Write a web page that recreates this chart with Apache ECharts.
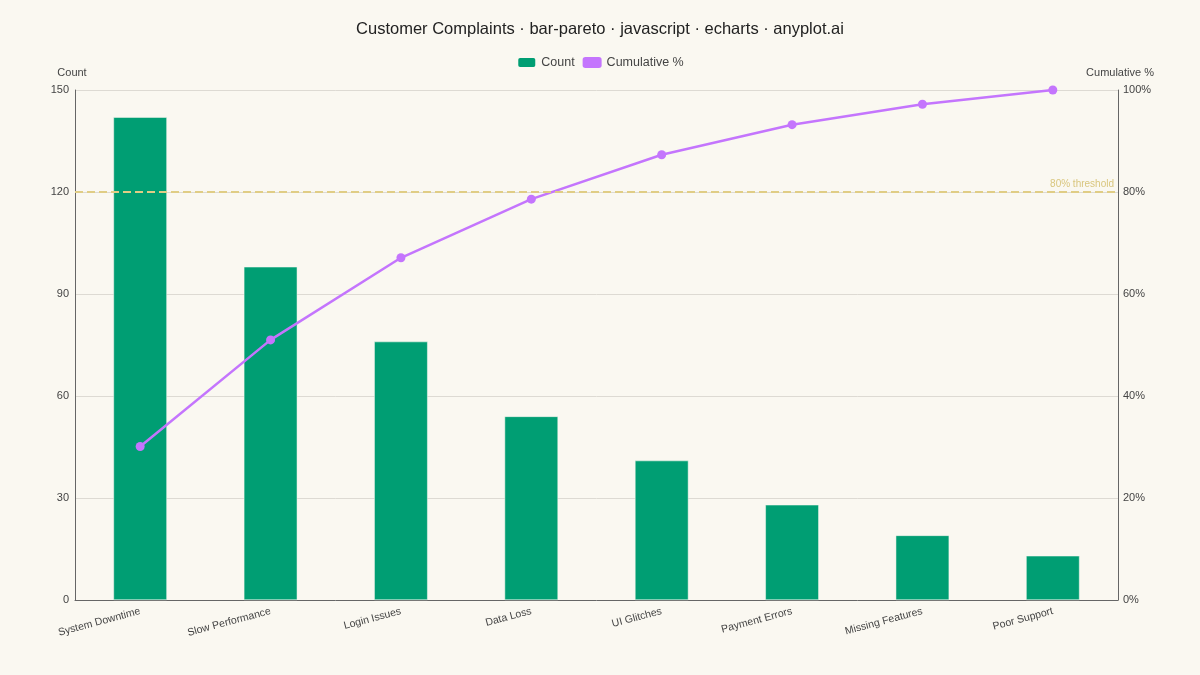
<!DOCTYPE html>
<html>
<head>
<meta charset="utf-8">
<script src="https://cdn.jsdelivr.net/npm/echarts@6/dist/echarts.min.js"></script>
<style>
  html, body { margin: 0; padding: 0; background: #FAF8F1; }
  #chart { width: 1200px; height: 675px; }
</style>
</head>
<body>
<div id="chart"></div>
<script>
const categories = ["System Downtime", "Slow Performance", "Login Issues", "Data Loss",
  "UI Glitches", "Payment Errors", "Missing Features", "Poor Support"];
const counts = [142, 98, 76, 54, 41, 28, 19, 13];
const cumulativePct = [30.1, 51.0, 67.1, 78.6, 87.3, 93.2, 97.2, 100];
const countTicks = { min: 0, max: 150, interval: 30 };
const pctTicks = { min: 0, max: 100, interval: 20 };
const threshold = 80;

const chart = echarts.init(document.getElementById("chart"));
const txt = "#444";

const option = {
  backgroundColor: "#FAF8F1",
  textStyle: { fontFamily: "Liberation Sans, Arial, sans-serif" },
  title: {
    text: "Customer Complaints · bar-pareto · javascript · echarts · anyplot.ai",
    left: "center",
    top: 16,
    textStyle: { fontSize: 16.5, fontWeight: "normal", color: "#222" }
  },
  legend: {
    top: 51,
    left: "center",
    icon: "roundRect",
    itemWidth: 19,
    itemHeight: 11,
    itemGap: 8,
    textStyle: { fontSize: 12.5, color: txt },
    data: ["Count", "Cumulative %"]
  },
  grid: { left: 75, right: 82, top: 90, bottom: 75 },
  xAxis: {
    type: "category",
    data: categories,
    axisLine: { lineStyle: { color: "#666" } },
    axisTick: { show: false },
    axisLabel: { rotate: 15, color: txt, fontSize: 10.5, margin: 11, interval: 0 }
  },
  yAxis: [
    {
      type: "value",
      name: "Count",
      nameLocation: "end",
      nameGap: 12,
      nameTextStyle: { color: txt, fontSize: 11, align: "center", padding: [0, 0, 0, -6] },
      min: countTicks.min, max: countTicks.max, interval: countTicks.interval,
      axisLine: { show: true, lineStyle: { color: "#666" } },
      axisTick: { show: false },
      axisLabel: { color: txt, fontSize: 11, margin: 6 },
      splitLine: { lineStyle: { color: "#DDDAD3" } }
    },
    {
      type: "value",
      name: "Cumulative %",
      nameLocation: "end",
      nameGap: 12,
      nameTextStyle: { color: txt, fontSize: 11, align: "center", padding: [0, 0, 0, 4] },
      min: pctTicks.min, max: pctTicks.max, interval: pctTicks.interval,
      axisLine: { show: true, lineStyle: { color: "#666" } },
      axisTick: { show: false },
      axisLabel: { color: txt, fontSize: 11, margin: 5, formatter: "{value}%" },
      splitLine: { show: false }
    }
  ],
  series: [
    {
      name: "Count",
      type: "bar",
      data: counts,
      barWidth: "41%",
      itemStyle: { color: "#009E73", borderColor: "#FAF8F1", borderWidth: 0.5 }
    },
    {
      name: "Cumulative %",
      type: "line",
      yAxisIndex: 1,
      data: cumulativePct,
      symbol: "circle",
      symbolSize: 9,
      lineStyle: { color: "#C475FD", width: 2.5 },
      itemStyle: { color: "#C475FD" },
      markLine: {
        silent: true,
        symbol: "none",
        lineStyle: { color: "#E0CD85", type: "dashed", width: 2 },
        label: {
          formatter: "80% threshold",
          position: "insideEndTop",
          distance: [4, 3],
          color: "#D9C67E",
          fontSize: 10
        },
        data: [{ yAxis: threshold }]
      }
    }
  ]
};

chart.setOption(option);
</script>
</body>
</html>
